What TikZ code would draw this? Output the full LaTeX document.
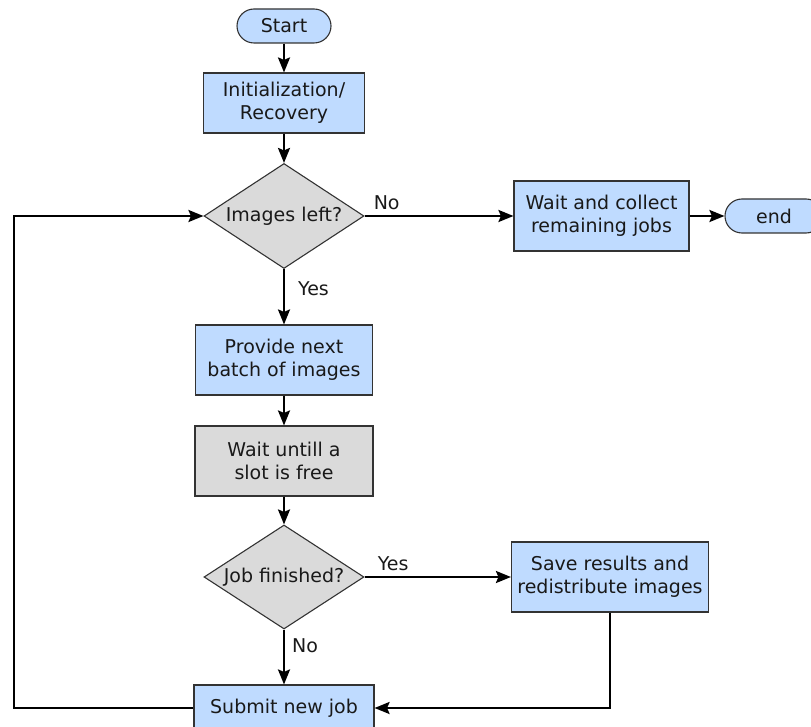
\documentclass[tikz,border=0pt]{standalone}
\usepackage{fontspec}
\setmainfont{DejaVu Sans}
\usetikzlibrary{shapes.geometric,arrows.meta,calc}

\definecolor{procblue}{HTML}{BFDBFF}
\definecolor{waitgray}{HTML}{DADADA}
\definecolor{edgegray}{HTML}{333333}

\tikzset{
  base/.style={draw=edgegray, line width=1.1pt, inner sep=0pt, align=center,
    font=\fontsize{19}{23}\selectfont, text=black!90},
  terminal/.style={base, fill=procblue, rectangle, rounded corners=17pt,
    minimum height=34pt},
  process/.style={base, fill=procblue, rectangle},
  waitbox/.style={base, fill=waitgray, rectangle},
  decision/.style={base, fill=waitgray, diamond, minimum width=160pt,
    minimum height=105pt},
  flow/.style={draw=black, line width=2.4pt,
    -{Stealth[length=15pt,width=12pt,inset=2.5pt]}},
  tag/.style={font=\fontsize{19}{23}\selectfont, inner sep=0pt, text=black!90}
}

\begin{document}
\begin{tikzpicture}[x=1pt, y=-1pt]
  \useasboundingbox (0,0) rectangle (811,727);

  % main column
  \node[terminal, minimum width=94pt] (start) at (284,26) {Start};
  \node[process, minimum width=161pt, minimum height=60pt] (init) at (284,103)
    {Initialization/\\Recovery};
  \node[decision] (left) at (284,216) {\makebox[0pt]{Images left?}};
  \node[process, minimum width=177pt, minimum height=70pt] (provide) at (284,360)
    {Provide next\\batch of images};
  \node[waitbox, minimum width=178pt, minimum height=70pt] (slot) at (284,461)
    {Wait untill a\\slot is free};
  \node[decision, minimum height=104pt] (finished) at (284,577)
    {\makebox[0pt]{Job finished?}};
  \node[process, minimum width=180pt, minimum height=46pt] (submit) at (284,708)
    {Submit new job};

  % right-hand branches
  \node[process, minimum width=175pt, minimum height=70pt] (collect) at (601.5,216)
    {Wait and collect\\remaining jobs};
  \node[terminal, minimum width=98pt] (finish) at (774,216) {end};
  \node[process, minimum width=197pt, minimum height=70pt] (save) at (610,577)
    {Save results and\\redistribute images};

  % loop-back corner on the left
  \coordinate (loop) at (14,708);

  % connectors
  \draw[flow] (start) -- (init);
  \draw[flow] (init) -- (left);
  \draw[flow] (left.east) -- (collect.west)
    node[tag, at start, anchor=south west, xshift=8pt, yshift=5pt] {No};
  \draw[flow] (collect) -- (finish);
  \draw[flow] (left.south) -- (provide.north)
    node[tag, at start, anchor=north west, xshift=13pt, yshift=-11pt] {Yes};
  \draw[flow] (provide) -- (slot);
  \draw[flow] (slot) -- (finished);
  \draw[flow] (finished.east) -- (save.west)
    node[tag, at start, anchor=south west, xshift=12pt, yshift=5pt] {Yes};
  \draw[flow] (finished.south) -- (submit.north)
    node[tag, at start, anchor=north west, xshift=7pt, yshift=-8pt] {No};
  \draw[flow] (save.south) |- (submit.east);
  \draw[flow] (submit.west) -- (loop) |- (left.west);
\end{tikzpicture}
\end{document}
